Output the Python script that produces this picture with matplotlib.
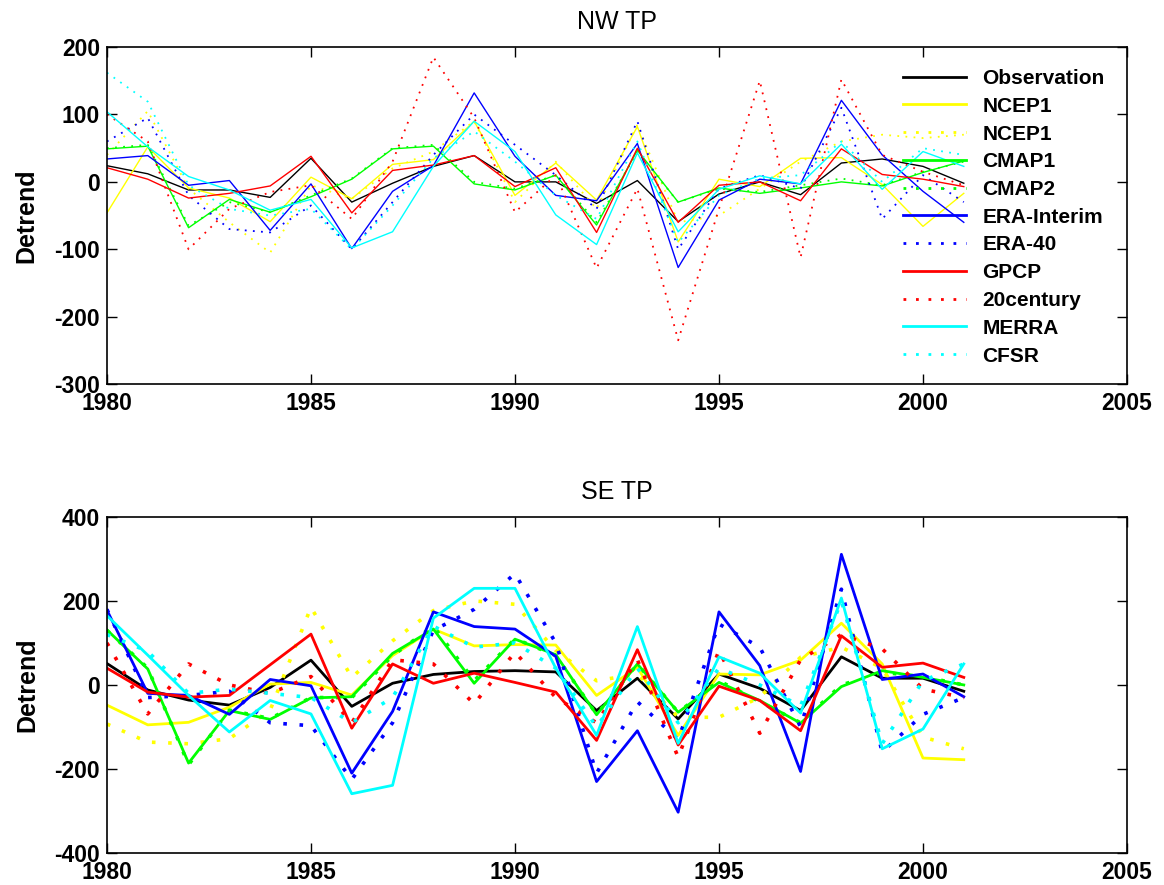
import matplotlib.pyplot as plt
import numpy as np

years = np.arange(1980, 2002)

labels = ["Observation", "NCEP1", "NCEP1", "CMAP1", "CMAP2", "ERA-Interim",
          "ERA-40", "GPCP", "20century", "MERRA", "CFSR"]
colors = ["k", "#ffff00", "#ffff00", "#00ff00", "#00ff00", "#0000ff",
          "#0000ff", "#ff0000", "#ff0000", "#00ffff", "#00ffff"]
styles = ["-", "-", ":", "-", ":", "-", ":", "-", ":", "-", ":"]

# NW TP
nw_obs = [24, 12, -12, -12, -23, 35, -30, -2, 23, 39, 0, 0, -32, 2, -59, -18, 0, -19, 28, 34, 23, -2]
nw_ncep1 = [-46, 52, -9, -24, -59, 7, -25, 26, 33, 90, -20, 28, -27, 82, -89, 4, -7, 35, 36, -4, -66, -17]
nw_ncep2 = [40, 105, -10, -60, -105, -5, -25, 20, 45, 90, -30, 30, -40, 85, -60, -50, -10, 30, 60, 70, 65, 70]
nw_cmap1 = [49, 53, -68, -26, -45, -22, 4, 49, 53, -3, -12, 10, -64, 47, -30, -9, -17, -9, 0, -6, 14, 31]
nw_cmap2 = [50, 55, -65, -30, -45, -20, 5, 50, 55, 0, -10, 10, -60, 45, -30, -10, -15, -5, 5, -5, 15, 30]
nw_erai = [34, 39, -5, 2, -72, -3, -99, -14, 24, 132, 38, -20, -28, 57, -127, -27, 4, -3, 121, 40, -14, -60]
nw_era40 = [60, 95, -20, -70, -75, -35, -100, -30, 40, 100, 55, 10, -40, 90, -100, -10, 10, -10, 110, -55, 10, -30]
nw_gpcp = [21, 4, -24, -17, -6, 38, -46, 17, 25, 39, -7, 21, -75, 50, -60, -5, 0, -28, 49, 11, 4, -7]
nw_20c = [100, 60, -100, -40, -15, -5, -55, 30, 185, 95, -45, 10, -128, -10, -235, -40, 150, -112, 152, 40, 15, -5]
nw_merra = [104, 52, 8, -12, -42, -26, -98, -74, 23, 90, 45, -49, -93, 43, -74, -11, 9, -3, 56, -11, 45, 23]
nw_cfsr = [162, 119, -5, -40, -50, -40, -100, -35, 35, 75, 30, -20, -55, 60, -90, -20, 5, 10, 60, 0, 50, 40]

# SE TP
se_obs = [51, -12, -36, -48, -6, 59, -51, 4, 25, 32, 34, 31, -61, 16, -81, 26, -8, -61, 67, 16, 16, -15]
se_ncep1 = [-48, -95, -89, -53, 2, 6, -24, 70, 133, 93, 96, 95, -25, 42, -120, 26, 24, 59, 147, 50, -174, -178]
se_ncep2 = [-93, -136, -140, -128, -60, 185, 18, 105, 177, 200, 192, 82, 10, 26, -77, -77, -29, 66, 90, 40, -124, -152]
se_cmap1 = [131, 38, -186, -61, -82, -31, -28, 75, 133, 4, 109, 72, -71, 50, -65, 6, -37, -91, -4, 34, 18, 0]
se_cmap2 = [130, 40, -190, -60, -80, -30, -30, 70, 140, 10, 110, 70, -70, 50, -65, 10, -40, -90, 0, 30, 20, 0]
se_erai = [178, -20, -25, -70, 13, -2, -210, -63, 174, 139, 133, 68, -230, -109, -303, 174, 46, -206, 311, 13, 26, -28]
se_era40 = [180, -30, -25, -15, -90, -97, -225, -90, 130, 180, 265, 100, -210, -40, -130, 145, 90, -100, 228, -160, -70, -30]
se_gpcp = [40, -17, -29, -25, 48, 121, -103, 50, 4, 28, 6, -17, -132, 84, -143, -3, -37, -109, 117, 42, 52, 18]
se_20c = [100, -69, 50, 0, -20, 20, -90, 60, 50, -45, 78, -30, -90, 60, -172, 82, -115, 60, 120, 86, -10, -30]
se_merra = [165, 71, -25, -112, -37, -69, -259, -239, 159, 230, 230, 40, -120, 139, -139, 67, 28, -67, 207, -152, -105, 50]
se_cfsr = [120, 80, -20, -10, -20, -30, -90, -30, 140, 90, 100, 40, -100, 40, -90, 40, 0, -50, 200, -140, 10, 50]

nw = [nw_obs, nw_ncep1, nw_ncep2, nw_cmap1, nw_cmap2, nw_erai, nw_era40,
      nw_gpcp, nw_20c, nw_merra, nw_cfsr]
se = [se_obs, se_ncep1, se_ncep2, se_cmap1, se_cmap2, se_erai, se_era40,
      se_gpcp, se_20c, se_merra, se_cfsr]

plt.rcParams["font.family"] = ["Liberation Sans", "DejaVu Sans"]
plt.rcParams["font.weight"] = "bold"
plt.rcParams["axes.unicode_minus"] = False

fig = plt.figure(figsize=(11.64, 8.85), dpi=100)
ax1 = fig.add_axes([0.0919, 0.566, 0.8763, 0.3808])
ax2 = fig.add_axes([0.0919, 0.0362, 0.8763, 0.3797])


def draw(ax, data, lw, title, ylim, yticks):
    for vals, c, ls, lab in zip(data, colors, styles, labels):
        if ls == ":":
            ax.plot(years, vals, color=c, lw=lw * 1.3, linestyle=(0, (1, 3.5)), label=lab)
        else:
            ax.plot(years, vals, color=c, lw=lw, linestyle="-", label=lab)
    ax.set_xlim(1980, 2005)
    ax.set_ylim(*ylim)
    ax.set_xticks(range(1980, 2006, 5))
    ax.set_yticks(yticks)
    ax.set_title(title, fontsize=18, fontweight="normal", pad=13)
    ax.set_ylabel("Detrend", fontsize=18, fontweight="bold", labelpad=11)
    ax.tick_params(direction="in", top=True, right=True, length=7, width=1,
                   labelsize=16.5)
    ax.tick_params(axis="x", pad=6)
    ax.tick_params(axis="y", pad=5)
    for lab in ax.get_xticklabels() + ax.get_yticklabels():
        lab.set_fontweight("bold")
    for s in ax.spines.values():
        s.set_linewidth(1.2)


draw(ax1, nw, 1.0, "NW TP", (-300, 200), range(-300, 201, 100))
draw(ax2, se, 2.0, "SE TP", (-400, 400), range(-400, 401, 200))

leg = ax1.legend(loc="upper left", bbox_to_anchor=(903 / 1164, 1 - 69 / 885),
                 bbox_transform=fig.transFigure, frameon=False,
                 fontsize=15, handlelength=3.0, labelspacing=0.42,
                 handletextpad=0.8, borderpad=0, borderaxespad=0)
for line in leg.get_lines():
    line.set_linewidth(2.0)

plt.savefig("out.png", dpi=100)
